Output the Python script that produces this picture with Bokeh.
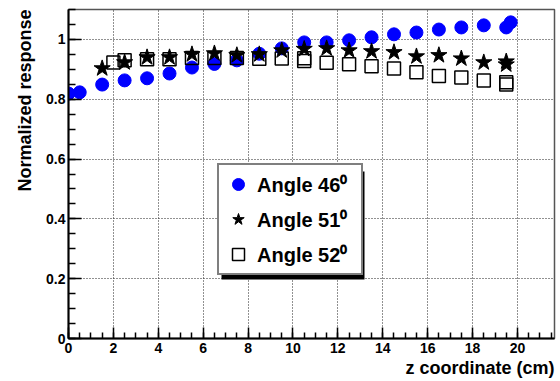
from bokeh.plotting import figure
from bokeh.models import (SingleIntervalTicker, CustomJSTickFormatter, Legend, LegendItem,
                          Title, BoxAnnotation, Range1d)
from bokeh.embed import file_html
from bokeh.resources import INLINE

# Angle 46 deg (blue circles)
z46 = [0.0, 0.5, 1.5, 2.5, 3.5, 4.5, 5.5, 6.5, 7.5, 8.5, 9.5, 10.5, 11.5, 12.5, 13.5,
       14.5, 15.5, 16.5, 17.5, 18.5, 19.5, 19.7]
r46 = [0.819, 0.823, 0.849, 0.863, 0.870, 0.886, 0.906, 0.918, 0.930, 0.952, 0.970, 0.990,
       0.990, 0.997, 1.007, 1.017, 1.023, 1.033, 1.040, 1.047, 1.040, 1.057]

# Angle 51 deg (stars)
z51 = [1.5, 2.5, 3.5, 4.5, 5.5, 6.5, 7.5, 8.5, 9.5, 10.5, 11.5, 12.5, 13.5, 14.5, 15.5,
       16.5, 17.5, 18.5, 19.5, 19.5]
r51 = [0.903, 0.923, 0.940, 0.940, 0.950, 0.953, 0.947, 0.950, 0.963, 0.968, 0.970, 0.963,
       0.960, 0.957, 0.943, 0.947, 0.936, 0.923, 0.916, 0.926]

# Angle 52 deg (open squares)
z52 = [2.0, 2.5, 3.5, 4.5, 5.5, 6.5, 7.5, 8.5, 9.5, 10.5, 10.5, 11.5, 12.5, 13.5, 14.5,
       15.5, 16.5, 17.5, 18.5, 19.5, 19.5]
r52 = [0.923, 0.930, 0.934, 0.934, 0.938, 0.938, 0.938, 0.935, 0.936, 0.937, 0.928, 0.922,
       0.917, 0.910, 0.903, 0.890, 0.878, 0.873, 0.863, 0.857, 0.849]

labels = ["Angle 46\u2070", "Angle 51\u2070", "Angle 52\u2070"]
x_title = "z coordinate (cm)"
y_title = "Normalized response"

FONT = "Liberation Sans"
XMAX, YMAX = 21.65, 1.1

p = figure(width=560, height=381, output_backend="svg", toolbar_location=None,
           x_range=Range1d(0, XMAX), y_range=Range1d(0, YMAX),
           min_border_left=68, min_border_right=6, min_border_top=9, min_border_bottom=43)

p.outline_line_color = "#555555"
p.outline_line_width = 1.5

# axes
for ax in (p.xaxis[0], p.yaxis[0]):
    ax.axis_line_width = 2
    ax.axis_line_color = "black"
    ax.major_tick_out = 0
    ax.minor_tick_out = 0
    ax.major_tick_line_width = 1.5
    ax.minor_tick_line_width = 1.5
    ax.major_tick_line_color = "black"
    ax.minor_tick_line_color = "black"
    ax.major_label_text_font = FONT
    ax.major_label_text_font_style = "bold"
    ax.major_label_text_font_size = "14px"
    ax.major_label_text_color = "black"

p.xaxis.ticker = SingleIntervalTicker(interval=2, num_minor_ticks=4)
p.yaxis.ticker = SingleIntervalTicker(interval=0.2, num_minor_ticks=4)
p.xaxis.major_tick_in = 11
p.xaxis.minor_tick_in = 6
p.yaxis.major_tick_in = 13
p.yaxis.minor_tick_in = 7
p.xaxis.major_label_standoff = 4
p.yaxis.major_label_standoff = 3
p.yaxis.formatter = CustomJSTickFormatter(code="return tick.toFixed(1).replace(/\\.0$/, '');")

# grid
for g in (p.xgrid[0], p.ygrid[0]):
    g.grid_line_color = "#222222"
    g.grid_line_dash = "1 2"
    g.grid_line_width = 1
p.xgrid.ticker = SingleIntervalTicker(interval=2)
p.ygrid.ticker = SingleIntervalTicker(interval=0.2)

# titles
p.add_layout(Title(text=y_title, align="right", text_font=FONT, text_font_style="bold",
                   text_font_size="18px", text_color="black", standoff=18), "left")
p.add_layout(Title(text=x_title, align="right", text_font=FONT, text_font_style="bold",
                   text_font_size="18px", text_color="black", standoff=0), "below")

# data
c = p.scatter(z46, r46, marker="circle", size=13, fill_color="#0000ff", line_color="#0000ff")
s = p.scatter(z51, r51, marker="star", size=17, fill_color="black", line_color="black")
q = p.scatter(z52, r52, marker="square", size=13, fill_color=None, line_color="black",
              line_width=1.5)

# legend shadow (4px offset)
px_x = XMAX / 486.0
px_y = YMAX / 329.0
shadow = BoxAnnotation(left=(221 - 68) * px_x, right=(364 - 68) * px_x,
                       top=(338 - 171) * px_y, bottom=(338 - 279) * px_y,
                       fill_color="black", fill_alpha=1, line_color=None)
p.add_layout(shadow)

legend = Legend(items=[LegendItem(label=labels[0], renderers=[c]),
                       LegendItem(label=labels[1], renderers=[s]),
                       LegendItem(label=labels[2], renderers=[q])],
                location=(149, 63), padding=4, spacing=5, glyph_height=30, glyph_width=30,
                label_height=30, label_width=100, label_standoff=4,
                label_text_font=FONT, label_text_font_style="bold",
                label_text_font_size="20px", label_text_color="black",
                border_line_color="black", border_line_width=2,
                background_fill_alpha=1, margin=0)
p.add_layout(legend)

open("out.html", "w").write(file_html(p, INLINE))
